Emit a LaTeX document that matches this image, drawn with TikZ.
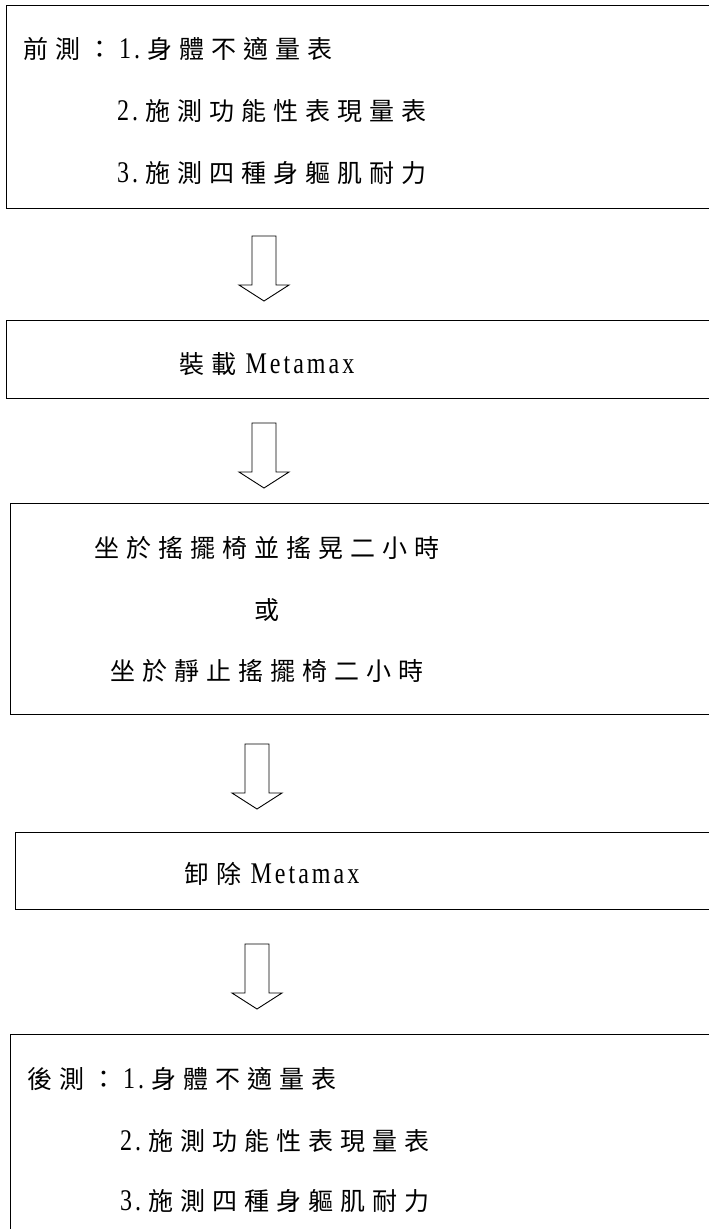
\documentclass[tikz,border=0pt]{standalone}
\usepackage{fontspec}
\usepackage{tikz}
\newfontfamily\cjkfont[LetterSpace=28]{Noto Sans CJK TC}
\newfontfamily\latfont[FakeStretch=0.8,LetterSpace=10]{Liberation Serif}
\newcommand\zh[1]{{\cjkfont #1}}
\newcommand\la[1]{{\latfont\fontsize{30}{34}\selectfont #1}}
\newcommand\gap{\hspace{7pt}}

\begin{document}
\begin{tikzpicture}[x=1pt, y=1pt,
    box/.style={draw, rectangle, line width=1.2pt, fill=white, inner sep=0pt, anchor=north west},
    txt/.style={inner sep=0pt, font=\fontsize{25}{30}\selectfont},
    blockarrow/.style={draw, line width=0.9pt, fill=white, line join=miter}]
    \clip (0,0) rectangle (709,-1229);
    % Boxes
    \node[box, minimum width=730pt, minimum height=203pt] (pre) at (6,-5) {};
    \node[box, minimum width=730pt, minimum height=78pt] (mount) at (6,-320) {};
    \node[box, minimum width=730pt, minimum height=211pt] (rocking) at (10,-503) {};
    \node[box, minimum width=730pt, minimum height=77pt] (unmount) at (15,-832) {};
    \node[box, minimum width=730pt, minimum height=260pt] (post) at (10,-1034) {};

    % Texts
    \node[txt, anchor=base west] (pre1) at (23,-58) {\zh{前測：}\gap\la{1.}\gap\zh{身體不適量表}};
    \node[txt, anchor=base west] (pre2) at (117,-120) {\la{2.}\gap\zh{施測功能性表現量表}};
    \node[txt, anchor=base west] (pre3) at (117,-182) {\la{3.}\gap\zh{施測四種身軀肌耐力}};
    \node[txt, anchor=base] (mounttxt) at (267,-373) {\zh{裝載}\la{ Metamax}};
    \node[txt, anchor=base] (rock1) at (267,-557) {\zh{坐於搖擺椅並搖晃二小時}};
    \node[txt, anchor=base] (rock2) at (267,-619) {\zh{或}};
    \node[txt, anchor=base] (rock3) at (267,-680) {\zh{坐於靜止搖擺椅二小時}};
    \node[txt, anchor=base] (unmounttxt) at (272,-883) {\zh{卸除}\la{ Metamax}};
    \node[txt, anchor=base west] (post1) at (27,-1088) {\zh{後測：}\gap\la{1.}\gap\zh{身體不適量表}};
    \node[txt, anchor=base west] (post2) at (120,-1150) {\la{2.}\gap\zh{施測功能性表現量表}};
    \node[txt, anchor=base west] (post3) at (120,-1210) {\la{3.}\gap\zh{施測四種身軀肌耐力}};

    % Arrows
    \coordinate (a1) at (264,-236);
    \coordinate (a2) at (264,-423);
    \coordinate (a3) at (257,-744);
    \coordinate (a4) at (257,-944);
    \foreach \a in {a1,a2,a3,a4}
        \draw[blockarrow] (\a) ++(-12,0) -- ++(24,0) -- ++(0,-49) -- ++(13,0)
            -- ++(-25,-16) -- ++(-25,16) -- ++(13,0) -- cycle;
\end{tikzpicture}
\end{document}
